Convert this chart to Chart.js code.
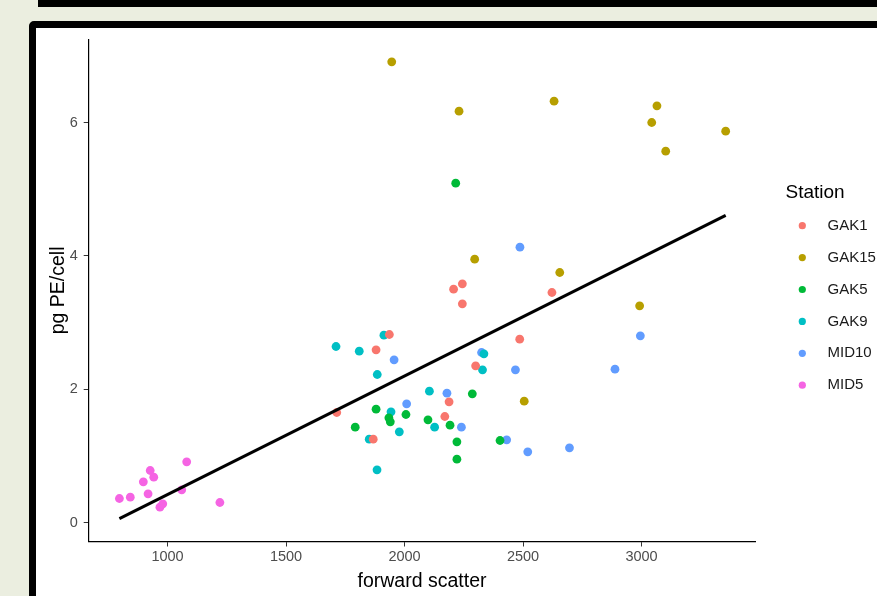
<!DOCTYPE html>
<html>
<head>
<meta charset="utf-8">
<script src="https://cdn.jsdelivr.net/npm/chart.js@4"></script>
<style>
  html, body { margin: 0; padding: 0; }
  body { width: 877px; height: 596px; overflow: hidden; background: #ebeee0; position: relative; }
  #topbar { position: absolute; left: 38px; top: 0; width: 839px; height: 7px; background: #000; }
  #panel { position: absolute; left: 29px; top: 21px; width: 880px; height: 600px; background: #fff;
           border: 7px solid #000; border-radius: 5px; }
  #plot { position: absolute; left: 0; top: 0; }
</style>
</head>
<body>
<div id="topbar"></div>
<div id="panel"></div>
<canvas id="plot" width="877" height="596"></canvas>
<script>
// categorias y colores (paleta por defecto de ggplot)
const stations = ['GAK1', 'GAK15', 'GAK5', 'GAK9', 'MID10', 'MID5'];
const colors = ['#F8766D', '#B79F00', '#00BA38', '#00BFC4', '#619CFF', '#F564E3'];

// forward scatter / pg PE por celda
const gak1X = [1880, 1936, 1714, 1868, 2188, 2170, 2300, 2207, 2244, 2244, 2622, 2486];
const gak1Y = [2.59, 2.82, 1.65, 1.25, 1.81, 1.59, 2.35, 3.50, 3.58, 3.28, 3.45, 2.75];
const gak15X = [1946, 2230, 2631, 3065, 3043, 3355, 3102, 2296, 2655, 2992, 2505];
const gak15Y = [6.91, 6.17, 6.32, 6.25, 6.00, 5.87, 5.57, 3.95, 3.75, 3.25, 1.82];
const gak5X = [2216, 1880, 1934, 1940, 2006, 1792, 2099, 2192, 2221, 2221, 2286, 2403];
const gak5Y = [5.09, 1.70, 1.57, 1.51, 1.62, 1.43, 1.54, 1.46, 1.21, 0.95, 1.93, 1.23];
const gak9X = [1711, 1809, 1913, 1885, 1943, 1851, 1978, 1884, 2105, 2127, 2335, 2329];
const gak9Y = [2.64, 2.57, 2.81, 2.22, 1.66, 1.25, 1.36, 0.79, 1.97, 1.43, 2.53, 2.29];
const mid10X = [1956, 2009, 2179, 2240, 2325, 2468, 2487, 2431, 2520, 2696, 2888, 2995];
const mid10Y = [2.44, 1.78, 1.94, 1.43, 2.55, 2.29, 4.13, 1.24, 1.06, 1.12, 2.30, 2.80];
const mid5X = [797, 843, 898, 918, 927, 942, 968, 980, 1060, 1081, 1221];
const mid5Y = [0.36, 0.38, 0.61, 0.43, 0.78, 0.68, 0.23, 0.28, 0.49, 0.91, 0.30];

const seriesX = [gak1X, gak15X, gak5X, gak9X, mid10X, mid5X];
const seriesY = [gak1Y, gak15Y, gak5Y, gak9Y, mid10Y, mid5Y];

// recta de regresion (lm)
const fitIntercept = -1.358;
const fitSlope = 0.0017775;

// ticks de los ejes
const xTicks = [1000, 1500, 2000, 2500, 3000];
const yTicks = [0, 2, 4, 6];

Chart.defaults.font.family = "Arial, 'Liberation Sans', sans-serif";

const allX = seriesX.flat();
const xLo = Math.min(...allX);
const xHi = Math.max(...allX);

const pointSets = stations.map((name, i) => ({
  label: name,
  data: seriesX[i].map((x, j) => ({ x: x, y: seriesY[i][j] })),
  backgroundColor: colors[i],
  borderWidth: 0,
  pointRadius: 4.4,
  pointHoverRadius: 4.4,
  order: 1
}));

const fitSet = {
  type: 'line',
  label: 'lm',
  data: [xLo, xHi].map(x => ({ x: x, y: fitIntercept + fitSlope * x })),
  borderColor: '#000',
  borderWidth: 3,
  pointRadius: 0,
  fill: false,
  order: 0
};

// leyenda al estilo ggplot
const stationLegend = {
  id: 'stationLegend',
  afterDraw(chart) {
    const c = chart.ctx;
    c.save();
    c.fillStyle = '#000';
    c.font = "19px Arial, 'Liberation Sans', sans-serif";
    c.textBaseline = 'alphabetic';
    c.fillText('Station', 785.5, 198.3);
    c.font = "15px Arial, 'Liberation Sans', sans-serif";
    c.textBaseline = 'middle';
    stations.forEach((name, i) => {
      const y = 225.7 + i * 31.9;
      c.beginPath();
      c.fillStyle = colors[i];
      c.arc(802.3, y, 3.6, 0, Math.PI * 2);
      c.fill();
      c.fillStyle = '#1a1a1a';
      c.fillText(name, 827.5, y);
    });
    c.restore();
  }
};

new Chart(document.getElementById('plot'), {
  type: 'scatter',
  data: { datasets: [fitSet, ...pointSets] },
  options: {
    responsive: false,
    animation: false,
    layout: { padding: { left: 0, top: 39.3, right: 121.7, bottom: 0 } },
    plugins: { legend: { display: false }, tooltip: { enabled: false } },
    scales: {
      x: {
        type: 'linear',
        min: 667.5,
        max: 3480,
        afterFit: s => { s.height = 54.5; },
        afterBuildTicks: s => { s.ticks = xTicks.map(v => ({ value: v })); },
        border: { display: true, color: '#000', width: 1.2 },
        grid: { drawOnChartArea: false, drawTicks: true, tickLength: 5, color: '#333', lineWidth: 1 },
        ticks: { color: '#4d4d4d', font: { size: 14.5 }, padding: 2, callback: v => String(v) },
        title: { display: true, text: 'forward scatter', color: '#000', font: { size: 19.5 }, padding: { top: 0, bottom: 3 } }
      },
      y: {
        type: 'linear',
        min: -0.285,
        max: 7.248,
        afterFit: s => { s.width = 88.7; },
        afterBuildTicks: s => { s.ticks = yTicks.map(v => ({ value: v })); },
        border: { display: true, color: '#000', width: 1.2 },
        grid: { drawOnChartArea: false, drawTicks: true, tickLength: 5, color: '#333', lineWidth: 1 },
        ticks: { color: '#4d4d4d', font: { size: 14.5 }, padding: 6, callback: v => String(v) },
        title: { display: true, text: 'pg PE/cell', color: '#000', font: { size: 19.5 }, padding: { top: 46.6, bottom: 0 } }
      }
    }
  },
  plugins: [stationLegend]
});
</script>
</body>
</html>
